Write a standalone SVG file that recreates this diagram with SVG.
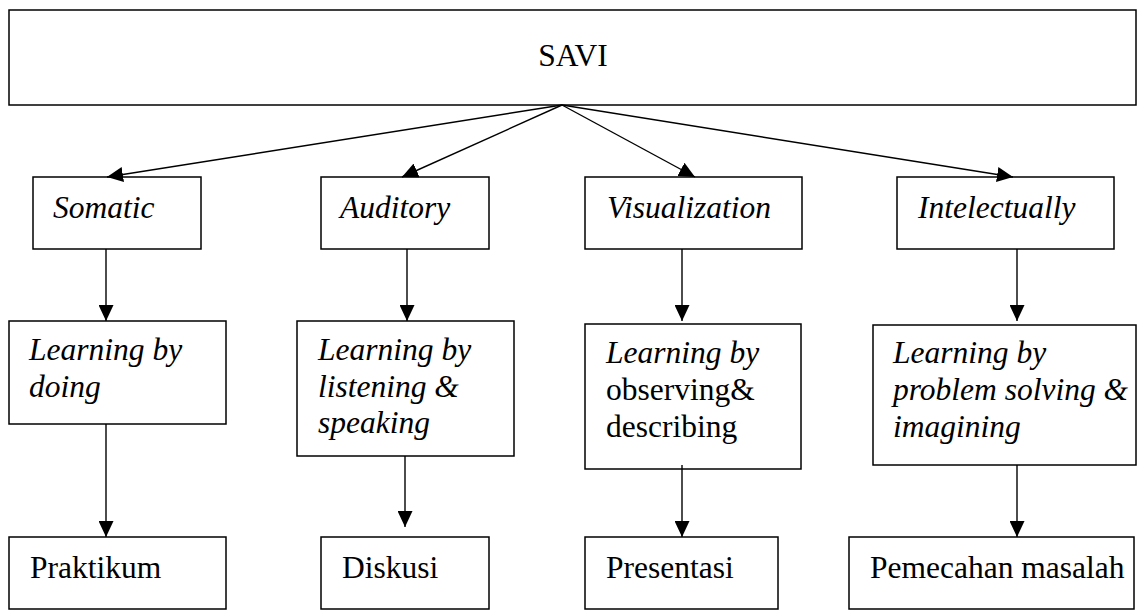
<svg xmlns="http://www.w3.org/2000/svg" width="1137" height="610" viewBox="0 0 1137 610">
  <style>
    .box { fill: #ffffff; stroke: #000000; stroke-width: 1.5; }
    .edge { fill: none; stroke: #000000; stroke-width: 1.4; marker-end: url(#head); }
    .lbl { font-family: 'Liberation Serif', 'Times New Roman', Times, 'DejaVu Serif', serif; font-size: 31.5px; fill: #000000; }
    .it { font-style: italic; }
  </style>
  <defs>
    <marker id="head" markerUnits="userSpaceOnUse" markerWidth="16" markerHeight="15" refX="16" refY="7.5" orient="auto">
      <path d="M0,0 L16,7.5 L0,15 z" fill="#000000"/>
    </marker>
  </defs>
  <rect width="1137" height="610" fill="#ffffff"/>

  <!-- root -->
  <g id="savi">
    <rect class="box" x="9" y="10" width="1127" height="95"/>
    <text class="lbl" font-family="Liberation Serif, serif" x="573" y="66" text-anchor="middle">SAVI</text>
  </g>

  <!-- modalities -->
  <g id="somatic">
    <rect class="box" x="33" y="177" width="168" height="72"/>
    <text class="lbl it" x="53" y="218">Somatic</text>
  </g>
  <g id="auditory">
    <rect class="box" x="321" y="177" width="168" height="72"/>
    <text class="lbl it" x="340" y="218">Auditory</text>
  </g>
  <g id="visualization">
    <rect class="box" x="585" y="177" width="217" height="72"/>
    <text class="lbl it" x="607" y="218">Visualization</text>
  </g>
  <g id="intelectually">
    <rect class="box" x="897" y="177" width="217" height="72"/>
    <text class="lbl it" x="918" y="218">Intelectually</text>
  </g>

  <!-- learning modes -->
  <g id="doing">
    <rect class="box" x="9" y="321" width="217" height="103"/>
    <text class="lbl it" x="29" y="360">Learning by</text>
    <text class="lbl it" x="29" y="397">doing</text>
  </g>
  <g id="listening">
    <rect class="box" x="297" y="321" width="217" height="135"/>
    <text class="lbl it" x="318" y="360">Learning by</text>
    <text class="lbl it" x="318" y="397">listening &amp;</text>
    <text class="lbl it" x="318" y="433">speaking</text>
  </g>
  <g id="observing">
    <rect class="box" x="585" y="324" width="216" height="145"/>
    <text class="lbl it" x="606" y="363">Learning by</text>
    <text class="lbl" x="606" y="400">observing&amp;</text>
    <text class="lbl" x="606" y="437">describing</text>
  </g>
  <g id="problem-solving">
    <rect class="box" x="873" y="325" width="263" height="140"/>
    <text class="lbl it" x="893" y="363">Learning by</text>
    <text class="lbl it" x="893" y="400">problem solving &amp;</text>
    <text class="lbl it" x="893" y="437">imagining</text>
  </g>

  <!-- activities -->
  <g id="praktikum">
    <rect class="box" x="9" y="537" width="217" height="72"/>
    <text class="lbl" x="30" y="578">Praktikum</text>
  </g>
  <g id="diskusi">
    <rect class="box" x="321" y="537" width="168" height="72"/>
    <text class="lbl" x="342" y="578">Diskusi</text>
  </g>
  <g id="presentasi">
    <rect class="box" x="585" y="537" width="193" height="72"/>
    <text class="lbl" x="606" y="578">Presentasi</text>
  </g>
  <g id="pemecahan">
    <rect class="box" x="849" y="537" width="285" height="72"/>
    <text class="lbl" x="870" y="578">Pemecahan masalah</text>
  </g>

  <!-- connectors -->
  <g id="connectors">
    <line class="edge" x1="562" y1="105" x2="107" y2="177"/>
    <line class="edge" x1="562" y1="105" x2="402" y2="177"/>
    <line class="edge" x1="562" y1="105" x2="695" y2="177"/>
    <line class="edge" x1="562" y1="105" x2="1013" y2="177"/>

    <line class="edge" x1="106" y1="249" x2="106" y2="321"/>
    <line class="edge" x1="407" y1="249" x2="407" y2="321"/>
    <line class="edge" x1="682" y1="249" x2="682" y2="321"/>
    <line class="edge" x1="1017" y1="249" x2="1017" y2="321"/>

    <line class="edge" x1="106" y1="424" x2="106" y2="537"/>
    <line class="edge" x1="405" y1="456" x2="405" y2="527"/>
    <line class="edge" x1="682" y1="465" x2="682" y2="537"/>
    <line class="edge" x1="1017" y1="465" x2="1017" y2="537"/>
  </g>
</svg>
